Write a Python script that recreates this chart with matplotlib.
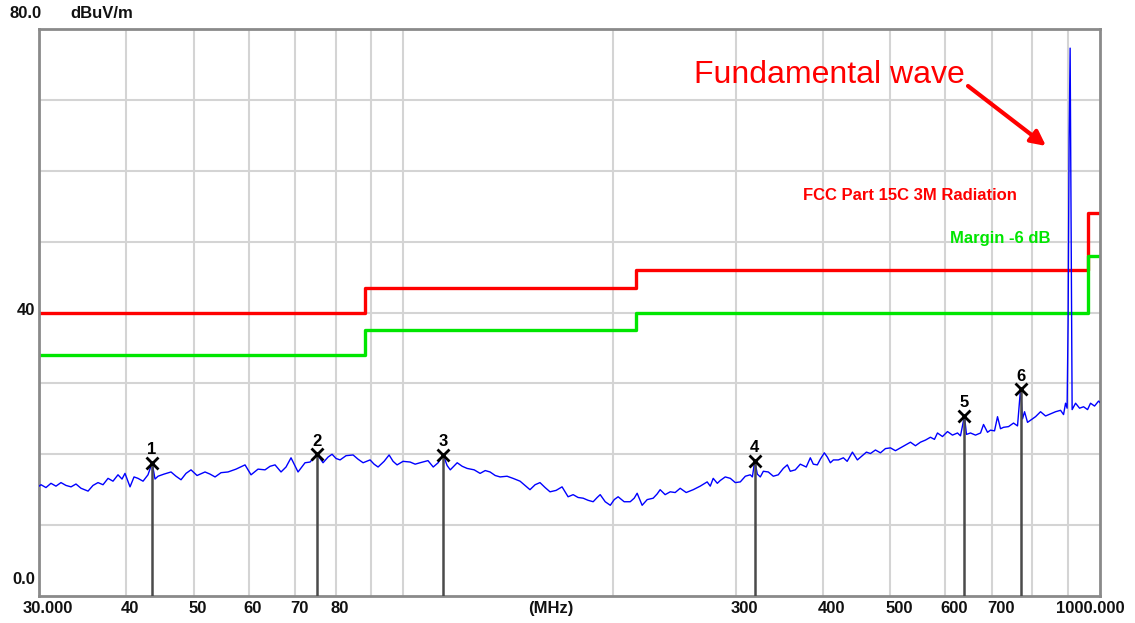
import matplotlib
matplotlib.use('Agg')
import matplotlib.pyplot as plt
from matplotlib.ticker import NullLocator
from matplotlib.transforms import blended_transform_factory, ScaledTranslation

plt.rcParams['font.family'] = ['Liberation Sans', 'DejaVu Sans']

# ---------------- data ----------------
trace_freq = [
    30.0, 30.2, 30.7, 31.21, 31.73, 32.26, 32.80, 33.35, 33.90, 34.47,
    35.28, 35.86, 36.46, 37.07, 37.69, 38.31, 38.95, 39.47, 39.86, 40.53,
    41.07, 41.61, 42.31, 43.01, 43.6, 44.02, 44.46, 45.35, 46.41, 47.18,
    47.97, 48.77, 49.58, 50.58, 51.93, 52.79, 53.68, 54.75, 56.03, 57.53,
    59.27, 60.46, 61.87, 63.32, 64.38, 65.45, 66.76, 67.87, 69.00, 70.62,
    72.27, 73.47, 75.2, 76.70, 77.98, 79.02, 80.08, 81.15, 82.77, 84.71,
    86.12, 87.56, 89.60, 90.80, 92.00, 93.85, 95.42, 96.68, 97.97, 99.93,
    102.3, 104.0, 105.7, 108.5, 110.4, 112.2, 114.1, 115.6, 116.8, 119.5,
    121.5, 123.5, 126.4, 128.9, 131.1, 133.2, 135.5, 137.7, 140.9, 143.7,
    147.1, 149.5, 152.0, 154.6, 157.1, 159.8, 162.4, 165.7, 169.0, 172.4,
    175.3, 178.2, 181.2, 184.2, 187.3, 189.8, 191.7, 194.9, 198.2, 200.8,
    203.4, 207.5, 211.7, 214.5, 216.6, 220.2, 223.9, 228.4, 231.4, 233.7,
    237.6, 241.6, 245.6, 249.7, 254.7, 260.7, 266.8, 273.0, 275.8, 278.5,
    282.3, 285.1, 289.8, 294.7, 299.6, 304.6, 309.7, 314.8, 317.0, 319.5,
    322.2, 325.4, 328.7, 334.1, 339.7, 345.3, 351.1, 355.8, 359.3, 365.3,
    371.4, 378.8, 383.9, 387.7, 392.9, 396.8, 402.1, 406.1, 410.2, 414.3,
    421.2, 428.2, 433.6, 441.2, 448.5, 456.0, 462.1, 468.3, 476.1, 484.0,
    492.1, 500.3, 508.6, 517.1, 525.7, 534.5, 543.4, 552.4, 561.7, 571.0,
    578.6, 584.4, 594.2, 604.1, 614.1, 624.4, 630.6, 638.9, 643.2, 651.8,
    662.7, 673.8, 680.5, 689.5, 696.4, 705.7, 712.7, 719.8, 727.0, 739.1,
    751.4, 761.4, 769.0, 774.1, 779.3, 787.0, 794.9, 808.1, 821.6, 835.3,
    849.2, 863.4, 877.8, 886.5, 892.4, 897.0, 900.0, 903.0, 906.0, 909.0,
    912.0, 922.4, 934.7, 947.1, 959.7, 969.2, 982.1, 995.2, 1000.0,
]
trace_level = [
    15.5, 15.7, 15.3, 15.9, 15.5, 16.0, 15.6, 15.4, 15.8, 15.2,
    14.8, 15.6, 16.0, 15.7, 16.6, 16.2, 17.1, 16.5, 17.3, 15.4,
    16.8, 16.6, 16.2, 17.1, 18.8, 16.5, 16.9, 17.2, 17.5, 16.9,
    16.4, 17.3, 17.8, 17.0, 17.5, 17.2, 16.8, 17.4, 17.5, 17.9,
    18.5, 17.1, 17.9, 17.8, 18.3, 18.5, 17.5, 18.2, 19.5, 17.5,
    18.8, 18.9, 20.0, 18.8, 19.6, 20.0, 19.4, 19.2, 19.8, 19.9,
    19.3, 18.8, 19.2, 18.6, 18.2, 19.0, 19.9, 19.0, 18.5, 19.0,
    18.9, 18.6, 18.8, 19.1, 18.2, 18.8, 19.9, 18.4, 17.8, 18.8,
    18.3, 18.0, 17.8, 17.3, 17.7, 17.5, 17.0, 16.8, 16.9, 16.6,
    16.2, 15.6, 15.0, 15.7, 16.0, 15.3, 14.7, 14.9, 15.4, 14.0,
    14.3, 13.9, 13.8, 13.5, 13.3, 13.9, 14.3, 13.3, 12.8, 13.6,
    14.0, 13.3, 13.3, 13.8, 14.5, 12.8, 13.6, 13.8, 14.4, 15.0,
    14.3, 14.7, 14.6, 15.2, 14.6, 15.0, 15.5, 16.1, 15.5, 16.6,
    15.9, 16.3, 16.8, 16.6, 16.0, 16.1, 16.9, 17.1, 16.8, 19.1,
    17.2, 16.8, 17.6, 17.5, 16.9, 17.1, 18.0, 18.5, 17.6, 17.8,
    18.6, 18.2, 19.5, 18.6, 18.5, 19.3, 20.2, 19.6, 18.8, 19.2,
    19.2, 19.5, 19.0, 20.3, 19.2, 19.8, 20.3, 20.1, 20.6, 20.2,
    20.8, 20.9, 20.5, 20.9, 21.3, 21.7, 21.2, 21.7, 22.0, 22.4,
    22.1, 23.0, 22.5, 23.2, 22.7, 23.0, 22.6, 25.4, 22.8, 23.0,
    22.7, 23.0, 24.2, 23.1, 23.4, 23.3, 25.3, 23.6, 23.8, 23.9,
    24.4, 24.0, 29.2, 25.0, 26.0, 24.5, 24.8, 25.3, 26.0, 25.4,
    25.7, 26.0, 26.2, 25.6, 27.2, 26.5, 39.0, 64.6, 77.3, 52.0,
    26.3, 27.2, 26.5, 26.7, 26.3, 27.2, 26.8, 27.5, 27.3,
]

limit_freq = [30, 88, 216, 960, 1000]
limit_level = [40, 43.5, 46, 54, 54]
margin_level = [34, 37.5, 40, 48, 48]

marker_freq = [43.6, 75.2, 114.1, 319.5, 638.9, 769.0]
marker_level = [18.8, 20.0, 19.9, 19.1, 25.4, 29.2]
marker_label = ['1', '2', '3', '4', '5', '6']

xtick_vals = [30, 40, 50, 60, 70, 80, 300, 400, 500, 600, 700, 1000]
xtick_labels = ['30.000', '40', '50', '60', '70', '80', '300', '400',
                '500', '600', '700', '1000.000']
xgrid_vals = [40, 50, 60, 70, 80, 90, 100, 200, 300, 400, 500, 600, 700, 800, 900]
ygrid_vals = [10, 20, 30, 40, 50, 60, 70]

# ---------------- figure ----------------
W, H = 1135, 623
fig = plt.figure(figsize=(W / 100, H / 100), dpi=100)
fig.patch.set_facecolor('white')
ax = fig.add_axes([39 / W, 1 - 596 / H, (1100 - 39) / W, (596 - 29) / H])
ax.set_xscale('log')
ax.set_xlim(30, 1000)
ax.set_ylim(0, 80)
ax.xaxis.set_major_locator(NullLocator())
ax.xaxis.set_minor_locator(NullLocator())
ax.yaxis.set_major_locator(NullLocator())
for s in ax.spines.values():
    s.set_color('#8a8a8a')
    s.set_linewidth(2)

grid_c = '#d4d4d4'
for g in xgrid_vals:
    ax.axvline(g, color=grid_c, lw=1.5, zorder=0)
for g in ygrid_vals:
    ax.axhline(g, color=grid_c, lw=1.5, zorder=0)

ax.plot(limit_freq, limit_level, drawstyle='steps-post', color='#ff0000', lw=2.4, zorder=2)
ax.plot(limit_freq, margin_level, drawstyle='steps-post', color='#00e600', lw=2.4, zorder=2)
ax.plot(trace_freq, trace_level, color='#0000ff', lw=1.0, zorder=3)

ax.vlines(marker_freq, 0, marker_level, color='#4a4a4a', lw=1.8, zorder=4)
ax.plot(marker_freq, marker_level, 'x', color='black', ms=8, mew=2, zorder=5)
for f, l, t in zip(marker_freq, marker_level, marker_label):
    ax.annotate(t, (f, l), xytext=(0, 13), textcoords='offset pixels',
                ha='center', va='center', fontsize=12, fontweight='bold', color='black')

# x tick labels
bt = blended_transform_factory(ax.transData, ax.transAxes)
for v, lab in zip(xtick_vals, xtick_labels):
    if lab == '30.000':
        off, ha = -16, 'left'
    elif lab == '1000.000':
        off, ha = 25, 'right'
    else:
        off, ha = -5, 'left'
    tr = bt + ScaledTranslation(off / 100, -12.5 / 100, fig.dpi_scale_trans)
    ax.text(v, 0, lab, transform=tr, ha=ha, va='center', fontsize=12,
            fontweight='bold', color='#111111', clip_on=False)
ax.text(0.482, 0, '(MHz)', transform=ax.transAxes + ScaledTranslation(0, -12.5 / 100, fig.dpi_scale_trans),
        ha='center', va='center', fontsize=12, fontweight='bold', color='#111111')

# y labels
def figtext(x, y, s, **kw):
    fig.text(x / W, 1 - y / H, s, **kw)

figtext(9, 14, '80.0', ha='left', va='center', fontsize=12, fontweight='bold', color='#111111')
figtext(70, 14, 'dBuV/m', ha='left', va='center', fontsize=12, fontweight='bold', color='#111111')
figtext(35, 311, '40', ha='right', va='center', fontsize=12, fontweight='bold', color='#111111')
figtext(35, 579, '0.0', ha='right', va='center', fontsize=12, fontweight='bold', color='#111111')

figtext(803, 195, 'FCC Part 15C 3M Radiation', ha='left', va='center', fontsize=12,
        fontweight='bold', color='#ff0000')
figtext(950, 238, 'Margin -6 dB', ha='left', va='center', fontsize=12,
        fontweight='bold', color='#00e600')

figtext(694, 75, 'Fundamental wave', ha='left', va='center', fontsize=23, color='#ff0000')
fig.add_artist(plt.Annotation('', xy=(1046 / W, 1 - 146 / H), xytext=(968 / W, 1 - 86 / H),
                              xycoords='figure fraction', textcoords='figure fraction',
                              arrowprops=dict(arrowstyle='-|>', color='#ff0000', lw=3,
                                              mutation_scale=22, shrinkA=0, shrinkB=0)))

fig.savefig('out.png', dpi=100)
